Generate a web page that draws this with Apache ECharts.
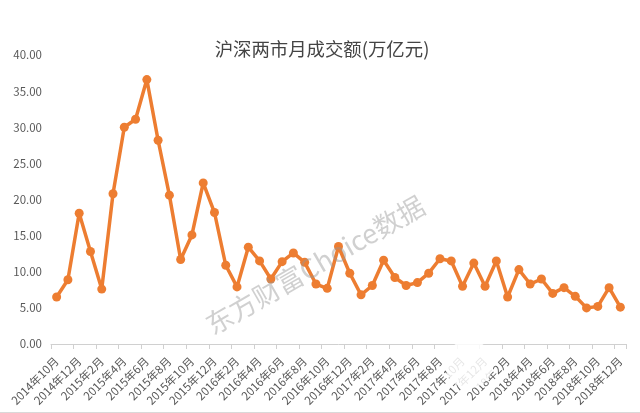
<!DOCTYPE html>
<html>
<head>
<meta charset="utf-8">
<style>
html, body { margin: 0; padding: 0; background: #fff; }
#box1 { width: 640px; height: 413px; }
</style>
<script src="https://cdn.jsdelivr.net/npm/echarts@6/dist/echarts.min.js"></script>
</head>
<body>
<div id="box1"></div>
<script>
const aMonth = [
    '2014年10月', '2014年11月', '2014年12月',
    '2015年1月', '2015年2月', '2015年3月', '2015年4月', '2015年5月', '2015年6月',
    '2015年7月', '2015年8月', '2015年9月', '2015年10月', '2015年11月', '2015年12月',
    '2016年1月', '2016年2月', '2016年3月', '2016年4月', '2016年5月', '2016年6月',
    '2016年7月', '2016年8月', '2016年9月', '2016年10月', '2016年11月', '2016年12月',
    '2017年1月', '2017年2月', '2017年3月', '2017年4月', '2017年5月', '2017年6月',
    '2017年7月', '2017年8月', '2017年9月', '2017年10月', '2017年11月', '2017年12月',
    '2018年1月', '2018年2月', '2018年3月', '2018年4月', '2018年5月', '2018年6月',
    '2018年7月', '2018年8月', '2018年9月', '2018年10月', '2018年11月', '2018年12月',
];
const aAmount = [
    6.5, 8.9, 18.1,
    12.8, 7.6, 20.8, 30.0, 31.1, 36.6,
    28.2, 20.6, 11.7, 15.1, 22.3, 18.2,
    10.9, 7.9, 13.4, 11.5, 9.0, 11.4,
    12.6, 11.3, 8.3, 7.7, 13.5, 9.8,
    6.8, 8.1, 11.6, 9.2, 8.1, 8.5,
    9.8, 11.8, 11.5, 8.0, 11.2, 8.0,
    11.5, 6.5, 10.3, 8.3, 9.0, 7.0,
    7.8, 6.6, 5.0, 5.2, 7.8, 5.1,
];
const sTitle = '沪深两市月成交额(万亿元)';
const sMark = '东方财富Choice数据';
const sFont = '"Noto Sans CJK SC", sans-serif';

const myChart = echarts.init(document.getElementById('box1'), null, { renderer: 'canvas' });
myChart.setOption({
    animation: false,
    backgroundColor: '#fff',
    title: {
        text: sTitle,
        left: 317,
        top: 35,
        textAlign: 'center',
        textStyle: { fontFamily: sFont, fontSize: 18.4, fontWeight: 'normal', color: '#444' },
    },
    grid: { left: 51, right: 14, top: 55, bottom: 69 },
    xAxis: {
        type: 'category',
        data: aMonth,
        boundaryGap: true,
        axisLine: { lineStyle: { color: '#d0d0d0', width: 1 } },
        axisTick: { show: true, interval: 1, length: 5, lineStyle: { color: '#d0d0d0' } },
        axisLabel: {
            interval: 1,
            rotate: 45,
            margin: 15,
            fontFamily: sFont,
            fontSize: 11.5,
            color: '#595959',
        },
    },
    yAxis: {
        type: 'value',
        min: 0,
        max: 40,
        interval: 5,
        axisLine: { show: false },
        axisTick: { show: false },
        splitLine: { show: false },
        axisLabel: {
            margin: 9,
            fontFamily: sFont,
            fontSize: 11.5,
            color: '#595959',
            formatter: val => val.toFixed(2),
        },
    },
    series: [{
        type: 'line',
        data: aAmount,
        symbol: 'circle',
        symbolSize: 9,
        showAllSymbol: true,
        z: 2,
        lineStyle: { color: '#ed7d31', width: 3.5 },
        itemStyle: { color: '#ed7d31' },
    }],
    graphic: [
        { // 水印
            type: 'text',
            x: 315,
            y: 265,
            rotation: 30 * Math.PI / 180,
            z: 10,
            style: {
                text: sMark,
                fontFamily: sFont,
                fontSize: 27,
                fill: 'rgba(150,150,150,0.45)',
                align: 'center',
                verticalAlign: 'middle',
            },
        },
        { // 右下角的白色图标
            type: 'circle',
            shape: { cx: 469, cy: 364, r: 24 },
            z: 10,
            style: { fill: 'rgba(255,255,255,0.85)' },
        },
        { // 底部灰线
            type: 'rect',
            shape: { x: 0, y: 412, width: 640, height: 1 },
            z: 10,
            style: { fill: '#d9d9d9' },
        },
    ],
});
</script>
</body>
</html>
